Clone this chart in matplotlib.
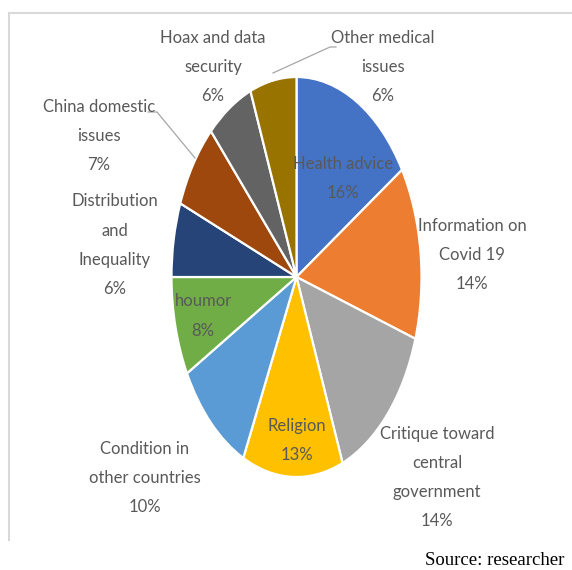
import matplotlib
matplotlib.use("Agg")
import matplotlib.pyplot as plt
from matplotlib.lines import Line2D

W, H = 572, 570

# Topic shares (percent), clockwise from 12 o'clock
topics = [
    "Health advice", "Information on\nCovid 19", "Critique toward\ncentral\ngovernment",
    "Religion", "Condition in\nother countries", "houmor", "Distribution\nand\nInequality",
    "China domestic\nissues", "Hoax and data\nsecurity", "Other medical\nissues",
]
shares = [16, 14, 14, 13, 10, 8, 6, 7, 6, 6]
colours = ["#4472C4", "#ED7D31", "#A5A5A5", "#FFC000", "#5B9BD5",
           "#70AD47", "#264478", "#9E480E", "#636363", "#997300"]

# label block centres in pixels (x, y from top)
label_pos = [(343, 178), (472, 255), (437, 477), (297, 440), (145, 478),
             (203, 316), (115, 245), (99, 136), (213, 67), (383, 67)]

TEXT = "#595959"
FONT = ["Lato", "DejaVu Sans"]


def fig_xy(px, py):
    return px / W, 1 - py / H


fig = plt.figure(figsize=(W / 100, H / 100), dpi=100)

# pie is drawn stretched into an ellipse: centre (296.5, 277), rx 125, ry 200
cx, cy, rx, ry = 296.5, 277, 125, 200
ax = fig.add_axes([(cx - rx) / W, (H - cy - ry) / H, 2 * rx / W, 2 * ry / H])
ax.pie(shares, colors=colours, startangle=90, counterclock=False,
       wedgeprops=dict(edgecolor="white", linewidth=1.6))
ax.set_aspect("auto")
ax.set_xlim(-1, 1)
ax.set_ylim(-1, 1)
ax.axis("off")

for name, pct, (px, py) in zip(topics, shares, label_pos):
    x, y = fig_xy(px, py)
    fig.text(x, y, f"{name}\n{pct}%", ha="center", va="center",
             fontsize=12, color=TEXT, family=FONT, linespacing=2.0)

# leader lines
for pts in ([(148, 112), (157, 112), (195, 158)],
            [(336, 47), (330, 47), (273, 73)]):
    xs, ys = zip(*[fig_xy(*p) for p in pts])
    fig.add_artist(Line2D(xs, ys, color="#A6A6A6", lw=0.9))

# chart frame (top and left edges)
for pts in ([(9, 13), (572, 13)], [(9, 13), (9, 540)]):
    xs, ys = zip(*[fig_xy(*p) for p in pts])
    fig.add_artist(Line2D(xs, ys, color="#D9D9D9", lw=1.5))

x, y = fig_xy(425, 565)
fig.text(x, y, "Source: researcher", ha="left", va="baseline",
         fontsize=13.5, family="Liberation Serif", color="black")

fig.savefig("out.png", dpi=100)
